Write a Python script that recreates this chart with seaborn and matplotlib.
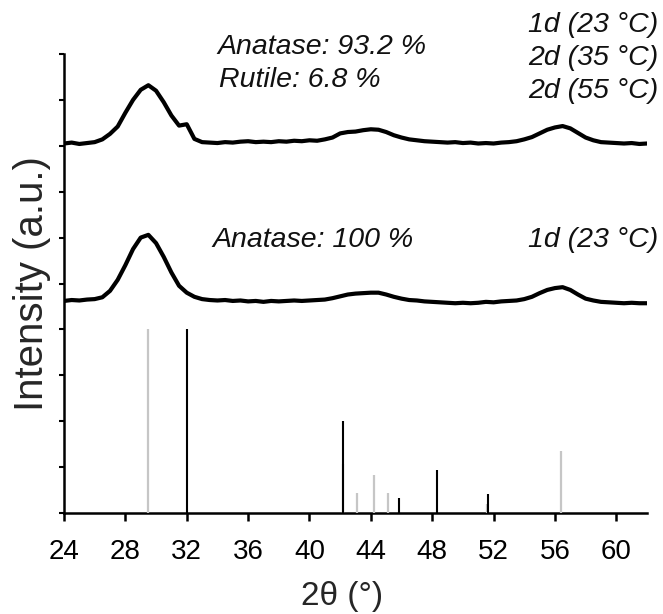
import matplotlib
matplotlib.use("Agg")
import matplotlib.pyplot as plt
import seaborn as sns
import numpy as np
import pandas as pd

# ---- data ----
two_theta = [24.0 + 0.5 * i for i in range(77)]  # 24.0 ... 62.0 grid of read positions

upper_pattern = [  # 1d (23 °C) + 2d (35 °C) + 2d (55 °C)
    8.05, 8.07, 8.04, 8.06, 8.08, 8.14, 8.26, 8.42, 8.72, 9.00,
    9.22, 9.32, 9.20, 8.95, 8.66, 8.44, 8.47, 8.15, 8.08, 8.07,
    8.06, 8.08, 8.07, 8.09, 8.10, 8.08, 8.09, 8.08, 8.10, 8.09,
    8.11, 8.10, 8.12, 8.11, 8.14, 8.18, 8.27, 8.30, 8.31, 8.34,
    8.36, 8.35, 8.30, 8.23, 8.18, 8.14, 8.12, 8.10, 8.09, 8.08,
    8.07, 8.08, 8.06, 8.07, 8.05, 8.06, 8.05, 8.07, 8.08, 8.10,
    8.14, 8.19, 8.27, 8.35, 8.40, 8.43, 8.38, 8.28, 8.18, 8.12,
    8.08, 8.07, 8.06, 8.05, 8.06, 8.04, 8.05,
]

lower_pattern = [  # 1d (23 °C)
    4.62, 4.64, 4.63, 4.65, 4.66, 4.70, 4.84, 5.08, 5.40, 5.75,
    6.00, 6.06, 5.88, 5.58, 5.24, 4.95, 4.80, 4.71, 4.66, 4.64,
    4.63, 4.64, 4.62, 4.63, 4.61, 4.62, 4.60, 4.62, 4.61, 4.62,
    4.63, 4.62, 4.63, 4.64, 4.65, 4.68, 4.72, 4.76, 4.78, 4.79,
    4.80, 4.80, 4.76, 4.71, 4.67, 4.64, 4.63, 4.61, 4.60, 4.59,
    4.58, 4.57, 4.58, 4.57, 4.58, 4.60, 4.59, 4.61, 4.62, 4.63,
    4.66, 4.71, 4.79, 4.86, 4.90, 4.92, 4.86, 4.76, 4.67, 4.63,
    4.60, 4.59, 4.58, 4.57, 4.58, 4.57, 4.57,
]

anatase_pos = [29.5, 42.2, 43.1, 44.2, 45.1, 51.6, 56.4]
anatase_int = [4.0, 1.07, 0.43, 0.83, 0.43, 0.20, 1.34]

rutile_pos = [32.0, 42.2, 45.85, 48.3, 51.65]
rutile_int = [4.0, 2.01, 0.33, 0.94, 0.41]

x_ticks = [24, 28, 32, 36, 40, 44, 48, 52, 56, 60]

# ---- figure ----
sns.set_style("ticks")
plt.rcParams["font.family"] = ["Liberation Sans", "DejaVu Sans"]

fig = plt.figure(figsize=(6.63, 6.14), dpi=100)
ax = fig.add_axes([64 / 663, 1 - 513 / 614, (647 - 64) / 663, (513 - 54) / 614])

df = pd.DataFrame({
    "two_theta": two_theta * 2,
    "intensity": upper_pattern + lower_pattern,
    "sample": ["upper"] * len(two_theta) + ["lower"] * len(two_theta),
})
sns.lineplot(data=df, x="two_theta", y="intensity", units="sample",
             estimator=None, color="black", lw=3.0, sort=False, ax=ax)

ax.vlines(anatase_pos, 0, anatase_int, colors="#c6c6c6", lw=1.6, zorder=3)
ax.vlines(rutile_pos, 0, rutile_int, colors="black", lw=1.5, zorder=4)

ax.set_xlim(24, 62)
ax.set_ylim(0, 10)
ax.set_xticks(x_ticks)
ax.set_yticks(range(0, 11))
ax.set_yticklabels([])
ax.tick_params(axis="x", direction="out", length=6, width=1.8, labelsize=20, pad=13, colors="black")
ax.tick_params(axis="y", direction="out", length=3.5, width=1.5, colors="black")
for s in ["top", "right"]:
    ax.spines[s].set_visible(False)
for s in ["left", "bottom"]:
    ax.spines[s].set_linewidth(1.8)
    ax.spines[s].set_color("black")

ax.set_xlabel("2θ (°)", fontsize=24)
ax.xaxis.set_label_coords((342 - 64) / 583, -68 / 459)
ax.set_ylabel("Intensity (a.u.)", fontsize=29, labelpad=2)

tkw = dict(fontsize=20.5, style="italic", color="#111111", clip_on=False)
ax.text(34.0, 10.0, "Anatase: 93.2 %", ha="left", va="baseline", **tkw)
ax.text(34.1, 9.28, "Rutile: 6.8 %", ha="left", va="baseline", **tkw)
ax.text(62.72, 10.48, "1d (23 °C)", ha="right", va="baseline", **tkw)
ax.text(62.72, 9.76, "2d (35 °C)", ha="right", va="baseline", **tkw)
ax.text(62.72, 9.04, "2d (55 °C)", ha="right", va="baseline", **tkw)
ax.text(33.7, 5.80, "Anatase: 100 %", ha="left", va="baseline", **tkw)
ax.text(62.72, 5.80, "1d (23 °C)", ha="right", va="baseline", **tkw)

fig.savefig("out.png", dpi=100)
